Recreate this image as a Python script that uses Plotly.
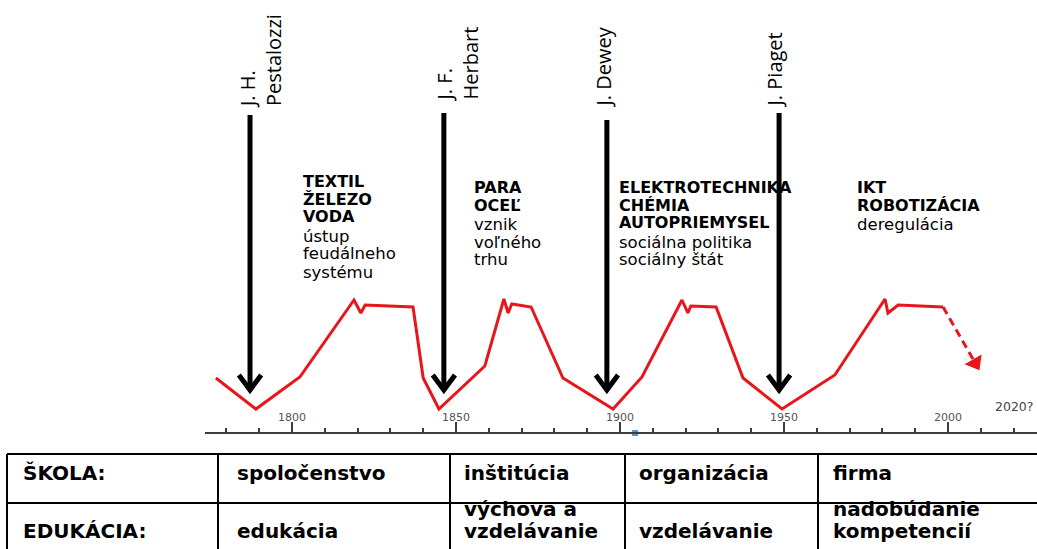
import plotly.graph_objects as go

W, H = 1037, 549

# ---------------- data ----------------
# economic cycle curve (year, relative level above the time axis)
cycle_years = [1776.8, 1789.0, 1802.4, 1818.9, 1821.0, 1822.3, 1836.9, 1840.0, 1844.8,
               1858.8, 1864.6, 1865.9, 1867.0, 1872.9, 1882.6, 1897.9, 1906.7, 1918.9,
               1920.7, 1921.6, 1929.3, 1937.5, 1949.4, 1965.5, 1980.8, 1981.7, 1984.8,
               1998.5]
cycle_levels = [55, 24, 56, 133, 120, 128, 126, 55, 24,
                67, 134, 120, 129, 126, 55, 24, 56, 133,
                120, 127, 126, 55, 24, 58, 134, 120, 128,
                126]
# dashed forecast part
forecast_years = [1998.5, 2008.3]
forecast_levels = [126, 70]

# thinkers (arrows)
thinker_years = [1787.2, 1846.3, 1896.0, 1948.5]
thinker_top = [318, 320, 313, 320]
thinker_tip = [43, 43, 43, 43]
thinker_names = ["J. H.<br>Pestalozzi", "J. F.<br>Herbart", "J. Dewey", "J. Piaget"]

# axis ticks
tick_years = [1800, 1850, 1900, 1950, 2000]
tick_labels = ["1800", "1850", "1900", "1950", "2000"]
future_label = "2020?"
marker_year = [1904.6]
marker_level = [0]

# eras
era_heads = [["TEXTIL", "ŽELEZO", "VODA"],
             ["PARA", "OCEĽ"],
             ["ELEKTROTECHNIKA", "CHÉMIA", "AUTOPRIEMYSEL"],
             ["IKT", "ROBOTIZÁCIA"]]
era_notes = [["ústup", "feudálneho", "systému"],
             ["vznik", "voľného", "trhu"],
             ["sociálna politika", "sociálny štát"],
             ["deregulácia"]]

# table
row_titles = ["ŠKOLA:", "EDUKÁCIA:"]
skola = ["spoločenstvo", "inštitúcia", "organizácia", "firma"]
edukacia = ["edukácia", "výchova a<br>vzdelávanie", "vzdelávanie", "nadobúdanie<br>kompetencií"]

# ---------------- layout helpers ----------------
def px(x):
    return x / W

def py(y):
    return 1 - y / H

X0_PX, YEAR0_PX, PX_PER_YEAR = 205, 292, 3.28   # axis start, pixel of 1800, scale
AXIS_Y_PX = 433
x_range = [1800 + (X0_PX - YEAR0_PX) / PX_PER_YEAR, 1800 + (W - YEAR0_PX) / PX_PER_YEAR]
y_range = [-(H - AXIS_Y_PX), AXIS_Y_PX]

RED = "#e8151b"
fig = go.Figure()

# cycle curve
fig.add_trace(go.Scatter(x=cycle_years, y=cycle_levels, mode="lines",
                         line=dict(color=RED, width=3), hoverinfo="skip"))
fig.add_trace(go.Scatter(x=forecast_years, y=forecast_levels, mode="lines",
                         line=dict(color=RED, width=3, dash="8px,5px"), hoverinfo="skip"))
fig.add_trace(go.Scatter(x=forecast_years[-1:], y=forecast_levels[-1:], mode="markers",
                         marker=dict(symbol="triangle-down", size=17, color=RED, angle=-30,
                                     line=dict(width=0)), hoverinfo="skip"))

# thinker arrows
ARM_DX, ARM_DY = 3.4, 15
for yr, top, tip in zip(thinker_years, thinker_top, thinker_tip):
    fig.add_trace(go.Scatter(x=[yr, yr], y=[top, tip], mode="lines",
                             line=dict(color="black", width=5), hoverinfo="skip"))
    fig.add_trace(go.Scatter(x=[yr - ARM_DX, yr, yr + ARM_DX], y=[tip + ARM_DY, tip, tip + ARM_DY],
                             mode="lines", line=dict(color="black", width=5), hoverinfo="skip"))

# blue marker on axis
fig.add_trace(go.Scatter(x=marker_year, y=marker_level, mode="markers",
                         marker=dict(symbol="square", size=6, color="#5b8fd6"), hoverinfo="skip"))

annotations = []

# tick labels
for yr, lab in zip(tick_years, tick_labels):
    annotations.append(dict(x=yr, y=AXIS_Y_PX - 417, xref="x", yref="y", text=lab,
                            showarrow=False, xanchor="center", yanchor="middle",
                            font=dict(family="DejaVu Sans", size=11, color="#555555")))
annotations.append(dict(x=px(993), y=py(406), xref="paper", yref="paper", text=future_label,
                        showarrow=False, xanchor="left", yanchor="middle",
                        font=dict(family="DejaVu Sans", size=12.5, color="#444444")))

# thinker names (rotated)
name_pos = [(261, 110), (457, 104), (603, 110), (774, 110)]
for name, (nx, ny) in zip(thinker_names, name_pos):
    annotations.append(dict(x=px(nx), y=py(ny), xref="paper", yref="paper", text=name,
                            showarrow=False, textangle=-90, align="left",
                            xanchor="center", yanchor="bottom",
                            font=dict(family="Open Sans", size=20, color="black")))

# era texts
era_pos = [(302, 181), (473, 187), (618, 187), (856, 187)]
STEP = 18
for heads, notes, (ex, ey) in zip(era_heads, era_notes, era_pos):
    i = 0
    for line in heads:
        annotations.append(dict(x=px(ex), y=py(ey + i * STEP), xref="paper", yref="paper",
                                text="<b>" + line + "</b>", showarrow=False, borderpad=0,
                                xanchor="left", yanchor="middle",
                                font=dict(family="DejaVu Sans", size=16, color="black")))
        i += 1
    for line in notes:
        annotations.append(dict(x=px(ex), y=py(ey + i * STEP + 1), xref="paper", yref="paper",
                                text=line, showarrow=False, borderpad=0,
                                xanchor="left", yanchor="middle",
                                font=dict(family="DejaVu Sans", size=16.5, color="black")))
        i += 1

# table
shapes = []
TOP, MID, BOT = 454, 503, H + 5
col_left = [7, 218, 450, 625, 818]
for yline in (TOP, MID):
    shapes.append(dict(type="line", xref="paper", yref="paper", x0=px(col_left[0]), x1=px(W + 5),
                       y0=py(yline), y1=py(yline), line=dict(color="black", width=2)))
for xline in col_left:
    shapes.append(dict(type="line", xref="paper", yref="paper", x0=px(xline), x1=px(xline),
                       y0=py(TOP), y1=py(BOT), line=dict(color="black", width=2)))

TFONT = dict(family="DejaVu Sans", size=20, color="black")
text_x = [22, 236, 463, 638, 832]
ROW1_Y, ROW2_Y, LINE_H = 473, 531, 22.5
row_cells = [[row_titles[0]] + skola, [row_titles[1]] + edukacia]
for r, cells in enumerate(row_cells):
    for c, cell in enumerate(cells):
        lines = cell.split("<br>")
        base = ROW1_Y if r == 0 else ROW2_Y
        for k, line in enumerate(lines):
            yy = base - (len(lines) - 1 - k) * LINE_H
            annotations.append(dict(x=px(text_x[c]), y=py(yy), xref="paper", yref="paper",
                                    text="<b>" + line + "</b>", showarrow=False, borderpad=0,
                                    xanchor="left", yanchor="middle", font=TFONT))

fig.update_layout(
    width=W, height=H,
    margin=dict(l=0, r=0, t=0, b=0),
    paper_bgcolor="white", plot_bgcolor="white",
    showlegend=False,
    xaxis=dict(domain=[px(X0_PX), 1], range=x_range, anchor="free",
               position=(H - AXIS_Y_PX) / H,
               showline=True, linecolor="#3c3c3c", linewidth=2,
               ticks="inside", ticklen=10, tickwidth=2, tickcolor="#3c3c3c",
               tickvals=tick_years, showticklabels=False,
               minor=dict(dtick=10, tick0=1800, ticks="inside", ticklen=4, tickwidth=1.5,
                          tickcolor="#3c3c3c", showgrid=False),
               showgrid=False, zeroline=False, fixedrange=True),
    yaxis=dict(domain=[0, 1], range=y_range, visible=False, fixedrange=True),
    annotations=annotations,
    shapes=shapes,
)

fig.write_html("out.html", config={"displayModeBar": False},
               post_script="document.body.style.margin='0px';document.body.style.padding='0px';")
